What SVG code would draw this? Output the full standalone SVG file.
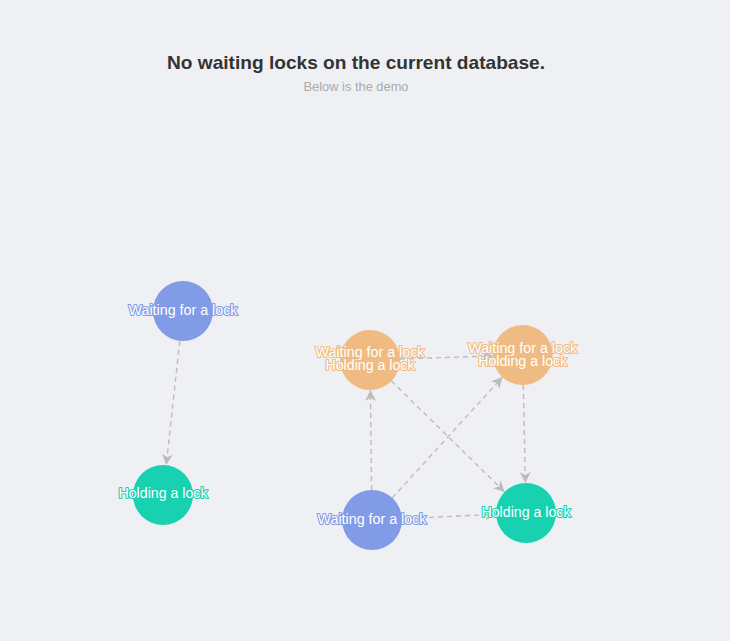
<svg xmlns="http://www.w3.org/2000/svg" width="730" height="641" viewBox="0 0 730 641">
<defs>
<style>
.title{font-family:"Liberation Sans",Arial,sans-serif;font-size:19px;font-weight:bold;fill:#333;text-anchor:middle}
.sub{font-family:"Liberation Sans",Arial,sans-serif;font-size:12px;fill:#aaa;text-anchor:middle}
.edge{stroke:#bcbcbc;stroke-width:1.4;stroke-dasharray:5 4;fill:none}
.lbl{font-family:"Liberation Sans",Arial,sans-serif;font-size:14px;fill:#fff;text-anchor:middle;paint-order:stroke;stroke-width:2.2;stroke-linejoin:round}
.wait circle{fill:#829be6}.wait text{stroke:#829be6}
.hold circle{fill:#18d1b1}.hold text{stroke:#18d1b1}
.both circle{fill:#efbb82}.both text{stroke:#efbb82}
</style>
<marker id="arr" markerUnits="userSpaceOnUse" markerWidth="11" markerHeight="11" viewBox="0 0 10 10" refX="10" refY="5" orient="auto">
<path d="M0,0 L10,5 L0,10 L3,5 Z" fill="#bcbcbc"/>
</marker>
</defs>
<rect width="730" height="641" fill="#eff0f4"/>
<text class="title" x="356" y="69" textLength="378" lengthAdjust="spacingAndGlyphs">No waiting locks on the current database.</text>
<text class="sub" x="356" y="91" textLength="105" lengthAdjust="spacingAndGlyphs">Below is the demo</text>
<g id="edges">
<line class="edge" x1="179.8" y1="341" x2="166.2" y2="465" marker-end="url(#arr)"/>
<line class="edge" x1="400" y1="359" x2="492.7" y2="356" marker-end="url(#arr)"/>
<line class="edge" x1="371.6" y1="490" x2="370.4" y2="390" marker-end="url(#arr)"/>
<line class="edge" x1="392.2" y1="497.9" x2="502.5" y2="377.1" marker-end="url(#arr)"/>
<line class="edge" x1="391.4" y1="381" x2="504.6" y2="492" marker-end="url(#arr)"/>
<line class="edge" x1="523.3" y1="385" x2="525.4" y2="483" marker-end="url(#arr)"/>
<line class="edge" x1="402" y1="518.6" x2="496" y2="514.4" marker-end="url(#arr)"/>
</g>
<g id="nodeA" class="wait"><circle cx="183" cy="311" r="30"/><text class="lbl" x="183" y="315" textLength="109" lengthAdjust="spacingAndGlyphs">Waiting for a lock</text></g>
<g id="nodeB" class="hold"><circle cx="163" cy="495" r="30"/><text class="lbl" x="163" y="498" textLength="89" lengthAdjust="spacingAndGlyphs">Holding a lock</text></g>
<g id="nodeC" class="both"><circle cx="370" cy="360" r="30"/><text class="lbl" x="370" y="356.5" textLength="109" lengthAdjust="spacingAndGlyphs">Waiting for a lock</text><text class="lbl" x="370" y="370" textLength="89" lengthAdjust="spacingAndGlyphs">Holding a lock</text></g>
<g id="nodeD" class="both"><circle cx="522.7" cy="355" r="30"/><text class="lbl" x="522.7" y="352.5" textLength="109" lengthAdjust="spacingAndGlyphs">Waiting for a lock</text><text class="lbl" x="522.7" y="366" textLength="89" lengthAdjust="spacingAndGlyphs">Holding a lock</text></g>
<g id="nodeE" class="wait"><circle cx="372" cy="520" r="30"/><text class="lbl" x="372" y="524" textLength="109" lengthAdjust="spacingAndGlyphs">Waiting for a lock</text></g>
<g id="nodeF" class="hold"><circle cx="526" cy="513" r="30"/><text class="lbl" x="526" y="517" textLength="89" lengthAdjust="spacingAndGlyphs">Holding a lock</text></g>
</svg>
